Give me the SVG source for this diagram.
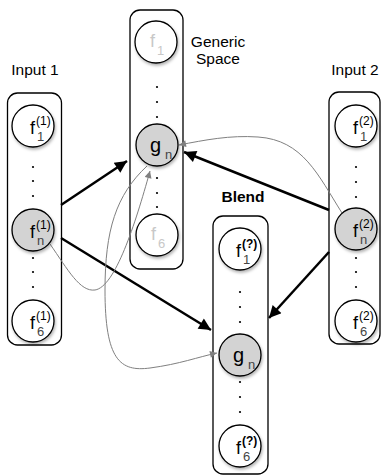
<svg xmlns="http://www.w3.org/2000/svg" width="383" height="476" viewBox="0 0 383 476">
<defs>
<style>
.box{fill:#fff;stroke:#000;stroke-width:1.3}
.node{fill:#fff;stroke:#000;stroke-width:1.3;filter:url(#sh)}
.gnode{fill:#d3d3d3;stroke:#000;stroke-width:1.3;filter:url(#sh)}
.lbl{font-family:"Liberation Sans",Arial,sans-serif;font-size:15.5px;fill:#000}
.f{font-family:"Liberation Sans",Arial,sans-serif;font-size:18px;fill:#000}
.g{font-family:"Liberation Sans",Arial,sans-serif;font-size:20px;fill:#000}
.sup{font-family:"Liberation Sans",Arial,sans-serif;font-size:12px;fill:#000}
.sub{font-family:"Liberation Sans",Arial,sans-serif;font-size:13px;fill:#444}
.faint{fill:#c8c8c8}
.dot{fill:#000}
.thick{fill:none;stroke:#000;stroke-width:2.5;marker-end:url(#ah)}
.thin{fill:none;stroke:#808080;stroke-width:1;marker-end:url(#ag)}
</style>
<filter id="sh" x="-30%" y="-30%" width="170%" height="170%">
<feDropShadow dx="1" dy="2" stdDeviation="1.5" flood-color="#000" flood-opacity="0.3"/>
</filter>
<marker id="ah" viewBox="0 0 10 10" refX="10" refY="5" markerWidth="6" markerHeight="4.8" orient="auto" markerUnits="strokeWidth">
<path d="M0,0 L10,5 L0,10 z" fill="#000"/>
</marker>
<marker id="ag" viewBox="0 0 10 10" refX="10" refY="5" markerWidth="9" markerHeight="7" orient="auto" markerUnits="strokeWidth">
<path d="M0,0 L10,5 L0,10 z" fill="#808080"/>
</marker>
</defs>

<text class="lbl" x="35" y="75" text-anchor="middle" font-size="16">Input 1</text>
<text class="lbl" x="355" y="75" text-anchor="middle" font-size="16">Input 2</text>
<text class="lbl" x="218" y="47" text-anchor="middle">Generic</text>
<text class="lbl" x="218" y="64" text-anchor="middle">Space</text>
<text class="lbl" x="243" y="202" text-anchor="middle" font-weight="bold">Blend</text>

<g id="input1">
<rect class="box" x="7.5" y="93" width="54" height="252" rx="10"/>
<g class="dot"><circle cx="33" cy="167" r="1.1"/><circle cx="33" cy="181" r="1.1"/><circle cx="33" cy="196" r="1.1"/><circle cx="33" cy="258" r="1.1"/><circle cx="33" cy="272" r="1.1"/><circle cx="33" cy="287" r="1.1"/></g>
</g>
<g id="generic">
<rect class="box" x="130" y="10" width="53" height="259" rx="10"/>
<g class="dot"><circle cx="157" cy="87" r="1.1"/><circle cx="157" cy="102" r="1.1"/><circle cx="157" cy="117" r="1.1"/><circle cx="157" cy="178" r="1.1"/><circle cx="157" cy="193" r="1.1"/><circle cx="157" cy="207" r="1.1"/></g>
</g>
<g id="blend">
<rect class="box" x="213" y="216" width="55" height="258" rx="10"/>
<g class="dot"><circle cx="240" cy="292" r="1.1"/><circle cx="240" cy="307" r="1.1"/><circle cx="240" cy="322" r="1.1"/><circle cx="240" cy="382" r="1.1"/><circle cx="240" cy="397" r="1.1"/><circle cx="240" cy="412" r="1.1"/></g>
</g>
<g id="input2">
<rect class="box" x="329" y="92" width="51" height="252" rx="10"/>
<g class="dot"><circle cx="356" cy="167" r="1.1"/><circle cx="356" cy="182" r="1.1"/><circle cx="356" cy="197" r="1.1"/><circle cx="356" cy="258" r="1.1"/><circle cx="356" cy="272" r="1.1"/><circle cx="356" cy="287" r="1.1"/></g>
</g>

<g id="connectors">
<path class="thick" d="M61,205 L127,161"/>
<path class="thick" d="M61,238 L211,330"/>
<path class="thick" d="M329,210 L184,152"/>
<path class="thick" d="M329,252 L269,318"/>
<path class="thin" d="M342,213 C318,175 303,140 258,137 C230,135 205,140 179,145"/>
<path class="thin" d="M50,244 C68,270 80,292 95,290 C115,287 135,225 150,171"/>
<path class="thin" d="M147,166 C116,195 105,230 105,290 C105,360 120,372 150,368 C180,364 198,357 217,353"/>
</g>

<g id="f1_1"><circle class="node" cx="33" cy="126" r="21"/><text class="f" x="30" y="134">f</text><text class="sup" x="36" y="125">(1)</text><text class="sub" x="37" y="141">1</text></g>
<g id="fn_1"><circle class="gnode" cx="33" cy="230" r="21"/><text class="f" x="30" y="238">f</text><text class="sup" x="36" y="229">(1)</text><text class="sub" x="37" y="245">n</text></g>
<g id="f6_1"><circle class="node" cx="33" cy="321" r="21"/><text class="f" x="30" y="329">f</text><text class="sup" x="36" y="320">(1)</text><text class="sub" x="37" y="336">6</text></g>

<g id="f1_g"><circle class="node" cx="156" cy="42" r="21"/><text class="f faint" x="150" y="47">f</text><text class="sub faint" x="157" y="55">1</text></g>
<g id="gn_g"><circle class="gnode" cx="157" cy="145" r="21"/><text class="g" x="150" y="152">g</text><text class="sub" x="165" y="159">n</text></g>
<g id="f6_g"><circle class="node" cx="157" cy="235" r="21"/><text class="f faint" x="151" y="240">f</text><text class="sub faint" x="158" y="248">6</text></g>

<g id="f1_b"><circle class="node" cx="240" cy="249" r="21"/><text class="f" x="236" y="257">f</text><text class="sup" x="242" y="248" font-weight="bold">(?)</text><text class="sub" x="243" y="264">1</text></g>
<g id="gn_b"><circle class="gnode" cx="240" cy="355" r="21"/><text class="g" x="233" y="362">g</text><text class="sub" x="248" y="369">n</text></g>
<g id="f6_b"><circle class="node" cx="240" cy="446" r="21"/><text class="f" x="236" y="454">f</text><text class="sup" x="242" y="445" font-weight="bold">(?)</text><text class="sub" x="243" y="461">6</text></g>

<g id="f1_2"><circle class="node" cx="356" cy="126" r="21"/><text class="f" x="353" y="134">f</text><text class="sup" x="359" y="125">(2)</text><text class="sub" x="360" y="141">1</text></g>
<g id="fn_2"><circle class="gnode" cx="356" cy="229" r="21"/><text class="f" x="353" y="237">f</text><text class="sup" x="359" y="228">(2)</text><text class="sub" x="360" y="244">n</text></g>
<g id="f6_2"><circle class="node" cx="356" cy="321" r="21"/><text class="f" x="353" y="329">f</text><text class="sup" x="359" y="320">(2)</text><text class="sub" x="360" y="336">6</text></g>
</svg>
